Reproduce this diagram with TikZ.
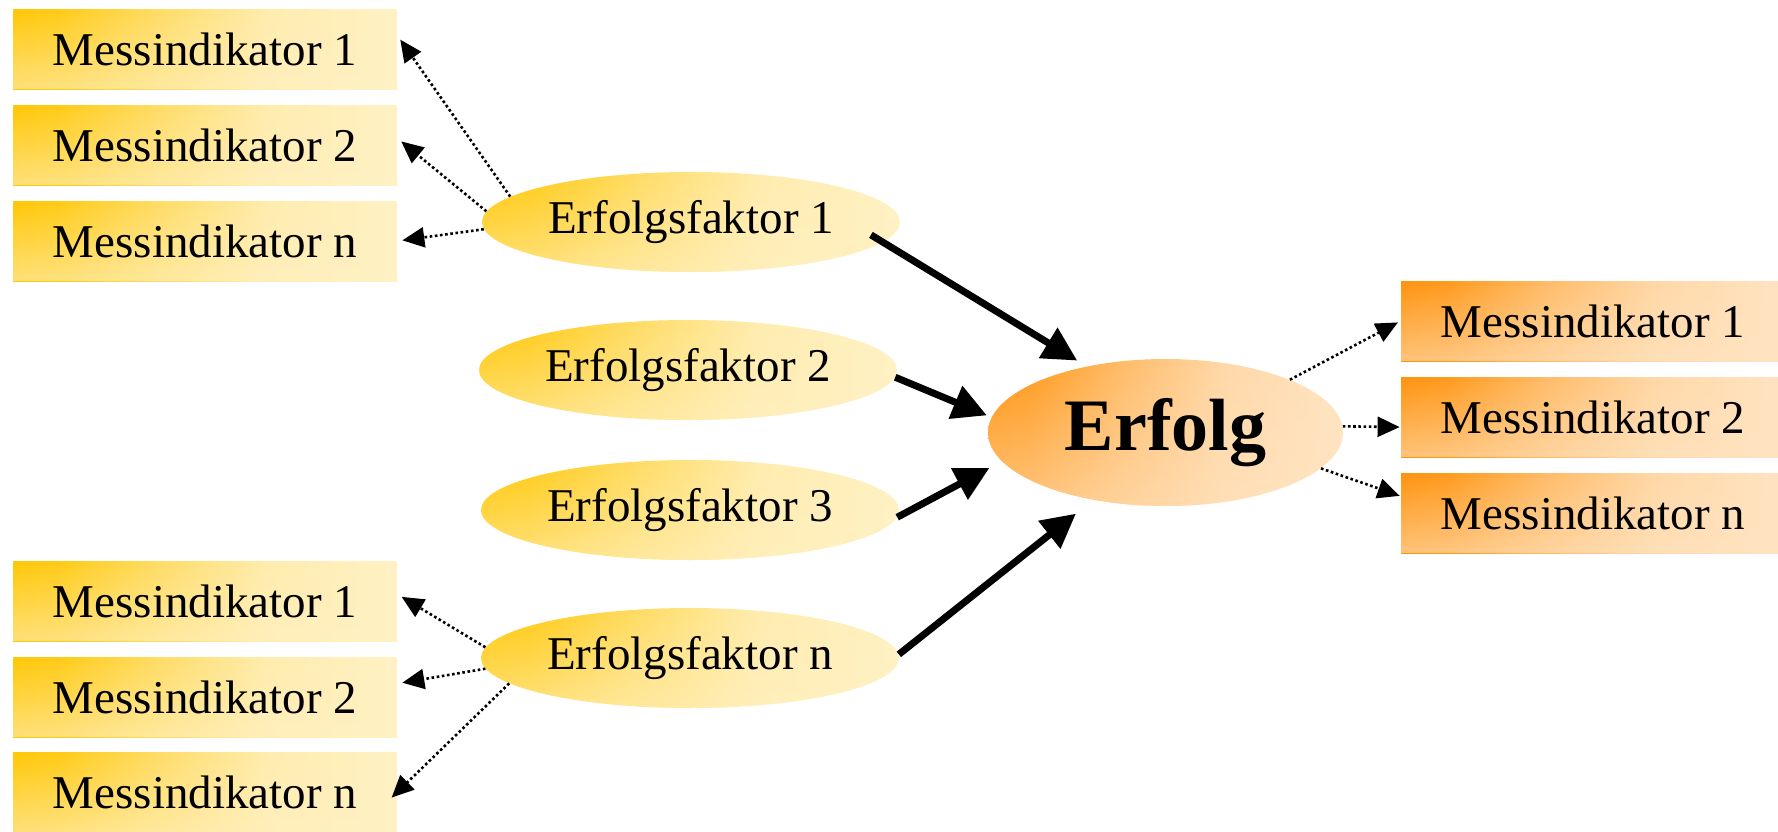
\documentclass[tikz,border=0pt]{standalone}
\usepackage{fontspec}
\setmainfont{Liberation Serif}
\usetikzlibrary{shapes.geometric,arrows.meta,fadings}
\definecolor{yA}{HTML}{FFC808}
\definecolor{yB}{HTML}{FFF1C4}
\definecolor{oA}{HTML}{FF9410}
\definecolor{oB}{HTML}{FFE4C2}
\pgfdeclarehorizontalshading{yfade}{100bp}{color(0bp)=(yA); color(25bp)=(yA); color(31bp)=(yA!92!yB); color(44bp)=(yA!50!yB); color(58bp)=(yB!88!yA); color(75bp)=(yB); color(100bp)=(yB)}
\pgfdeclarehorizontalshading{ofade}{100bp}{color(0bp)=(oA); color(25bp)=(oA); color(31bp)=(oA!92!oB); color(44bp)=(oA!50!oB); color(58bp)=(oB!85!oA); color(75bp)=(oB); color(100bp)=(oB)}
\tikzset{
  yfill/.style={shade, shading=yfade, postaction={fill=yB, path fading=north, fill opacity=0.6}},
  ofill/.style={shade, shading=ofade, postaction={fill=oB, path fading=north, fill opacity=0.6}},
  ybox/.style={rectangle, draw=none, yfill, minimum width=192pt, minimum height=40pt, inner sep=0pt,
    font=\fontsize{23.5}{26}\selectfont},
  obox/.style={rectangle, draw=none, ofill, minimum width=192pt, minimum height=40pt, inner sep=0pt,
    font=\fontsize{23.5}{26}\selectfont},
  yell/.style={ellipse, draw=none, yfill, minimum width=209pt, minimum height=50pt, inner sep=0pt,
    font=\fontsize{23.5}{26}\selectfont},
  oell/.style={ellipse, draw=none, ofill, minimum width=177.5pt, minimum height=73.5pt, inner sep=0pt,
    font=\fontsize{37}{40}\selectfont\bfseries},
  thickarr/.style={line width=3.5pt, -{Triangle[length=17pt,width=17pt]}},
  dotarr/.style={line width=1.3pt, dash pattern=on 1.3pt off 1.3pt, -{Triangle[length=11pt,width=10pt]}},
}
\begin{document}
\begin{tikzpicture}[x=0.5pt,y=-0.5pt]
\useasboundingbox (0,0) rectangle (1778,831);
% left top boxes
\node[ybox] (L1) at (205,49) {Messindikator 1};
\node[ybox] (L2) at (205,145) {Messindikator 2};
\node[ybox] (L3) at (205,241) {Messindikator n};
% left bottom boxes
\node[ybox] (B1) at (205,601) {Messindikator 1};
\node[ybox] (B2) at (205,697) {Messindikator 2};
\node[ybox] (B3) at (205,792) {Messindikator n};
% right boxes
\node[obox] (R1) at (1593,321) {Messindikator 1};
\node[obox] (R2) at (1593,417) {Messindikator 2};
\node[obox] (R3) at (1593,513) {Messindikator n};
% factors
\node[yell] (F1) at (691,222) {Erfolgsfaktor 1};
\node[yell] (F2) at (688,370) {Erfolgsfaktor 2};
\node[yell] (F3) at (690,510) {Erfolgsfaktor 3};
\node[yell] (Fn) at (690,658) {Erfolgsfaktor n};
% success
\node[oell] (E) at (1165.5,432.5) {Erfolg};
% thick arrows
\draw[thickarr, shorten <=-7pt, shorten >=5.5pt] (F1.-6) -- (E.140.7);
\draw[thickarr, shorten >=2.5pt] (F2.-2) -- (E.175);
\draw[thickarr, shorten >=7pt] (F3.-2) -- (E.-170.5);
\draw[thickarr, shorten >=11pt] (Fn.1) -- (E.-137);
% dotted arrows left top
\draw[dotarr, shorten >=2.5pt] (F1.172) -- (L1.4.8);
\draw[dotarr, shorten >=2.5pt] (F1.177) -- (L2.2.3);
\draw[dotarr, shorten >=2.5pt] (F1.-178) -- (L3.-0.6);
% dotted arrows left bottom
\draw[dotarr, shorten >=2.5pt] (Fn.177.7) -- (B1.2.3);
\draw[dotarr, shorten >=2.5pt] (Fn.-177.5) -- (B2.4.6);
\draw[dotarr, shorten >=-4pt] (Fn.-172.5) -- (B3.east);
% dotted arrows right
\draw[dotarr, shorten >=1.5pt] (E.23) -- (R1.west);
\draw[dotarr, shorten >=0.5pt] (E.2.6) -- (R2.-177.9);
\draw[dotarr, shorten >=0.5pt] (E.-13.5) -- (R3.175.9);
\end{tikzpicture}
\end{document}
